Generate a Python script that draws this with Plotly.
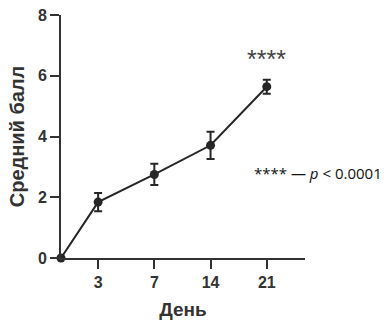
import plotly.graph_objects as go

# Data: mean score by day with error bars
days = ["0", "3", "7", "14", "21"]
mean_score = [0.0, 1.84, 2.75, 3.71, 5.64]
err = [0.0, 0.30, 0.35, 0.45, 0.23]
sig_label = "****"
sig_day = "21"
legend_text = "**** — <i>p</i> < 0.0001"

# Day 0 sits at the axis origin; later days are evenly spaced categories
x_pos = [0.0] + [0.66 + k for k in range(len(days) - 1)]
day_pos = dict(zip(days, x_pos))

ink = "#262626"
axis_col = "#333333"

fig = go.Figure()
fig.add_trace(go.Scatter(
    x=x_pos, y=mean_score,
    mode="lines+markers",
    line=dict(color=ink, width=2),
    marker=dict(size=9, color=ink),
    error_y=dict(type="data", array=err, visible=True, color=ink,
                 thickness=2, width=4),
    cliponaxis=False,
    showlegend=False,
))

i_sig = days.index(sig_day)
fig.add_annotation(
    x=day_pos[sig_day], y=mean_score[i_sig] + err[i_sig],
    yshift=21, text=sig_label, showarrow=False,
    font=dict(family="Liberation Sans", size=25, color="#444444"),
)
fig.add_annotation(
    xref="paper", yref="y", x=1.0, y=2.79, xanchor="left",
    xshift=-53,
    text=legend_text, showarrow=False,
    font=dict(family="Open Sans", size=15, color="#111111"),
)

fig.update_layout(
    width=390, height=324,
    margin=dict(l=61, r=85, t=15, b=66),
    plot_bgcolor="white", paper_bgcolor="white",
    font=dict(family="Liberation Sans", color=axis_col),
    xaxis=dict(
        range=[0, 4.34], showgrid=False, zeroline=False, automargin=False,
        showline=True, linecolor=axis_col, linewidth=2,
        tickmode="array", tickvals=x_pos[1:], ticktext=days[1:],
        ticks="outside", ticklen=9, tickwidth=2, tickcolor=axis_col,
        tickfont=dict(size=16, family="Liberation Sans", weight="bold"),
        title=dict(text="<b>День</b>", font=dict(size=19), standoff=12),
    ),
    yaxis=dict(
        range=[0, 8], showgrid=False, zeroline=False, automargin=False,
        showline=True, linecolor=axis_col, linewidth=2,
        tickvals=[0, 2, 4, 6, 8],
        ticks="outside", ticklen=9, tickwidth=2, tickcolor=axis_col,
        tickfont=dict(size=16, family="Liberation Sans", weight="bold"),
        title=dict(text="<b>Средний балл</b>", font=dict(size=20), standoff=8),
    ),
)

fig.write_html("out.html")
